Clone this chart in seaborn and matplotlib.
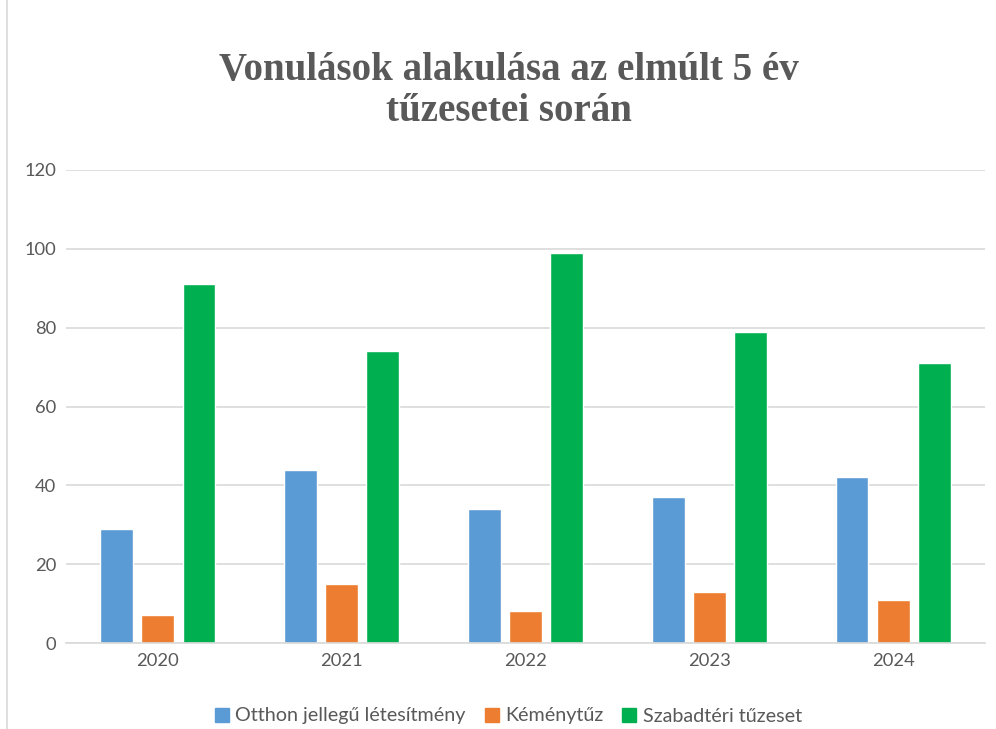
import matplotlib
matplotlib.use("Agg")
import matplotlib.pyplot as plt
import pandas as pd
import seaborn as sns
from matplotlib.lines import Line2D

years = ["2020", "2021", "2022", "2023", "2024"]
otthon = [29, 44, 34, 37, 42]
kemeny = [7, 15, 8, 13, 11]
szabad = [91, 74, 99, 79, 71]
series = ["Otthon jellegű létesítmény", "Kéménytűz", "Szabadtéri tűzeset"]
colors = ["#5B9BD5", "#ED7D31", "#00B050"]

df = pd.DataFrame({"év": years, series[0]: otthon, series[1]: kemeny, series[2]: szabad})
long = df.melt(id_vars="év", var_name="típus", value_name="db")

sns.set_style("white")
plt.rcParams["font.family"] = ["Lato", "DejaVu Sans"]

fig = plt.figure(figsize=(9.96, 7.29), dpi=100)
ax = fig.add_axes([66 / 996, 1 - 643 / 729, 919 / 996, 473 / 729])

sns.barplot(data=long, x="év", y="db", hue="típus", palette=colors,
            width=0.67, gap=0.2, ax=ax, legend=False, saturation=1)

ax.set_xlim(-0.5, 4.5)
ax.set_ylim(0, 120)
ax.set_yticks(range(0, 121, 20))
ax.yaxis.grid(True, color="#D9D9D9", linewidth=1.2)
ax.set_axisbelow(True)
for s in ["top", "right", "left"]:
    ax.spines[s].set_visible(False)
ax.spines["bottom"].set_color("#D9D9D9")
ax.spines["bottom"].set_linewidth(1.2)
ax.set_xlabel("")
ax.set_ylabel("")
ax.tick_params(axis="both", length=0, labelsize=13.2, labelcolor="#595959", pad=7)

fig.text(0.511, 1 - 91 / 729, "Vonulások alakulása az elmúlt 5 év\ntűzesetei során",
         ha="center", va="center", fontsize=28.1, fontweight="bold",
         family=["Liberation Serif", "DejaVu Serif"], color="#595959", linespacing=1.12)

handles = [Line2D([], [], marker="s", linestyle="", markersize=9.5,
                  markerfacecolor=c, markeredgecolor=c) for c in colors]
fig.legend(handles, series, loc="center", bbox_to_anchor=(0.51, 1 - 716 / 729),
           ncol=3, frameon=False, fontsize=14.2, labelcolor="#595959",
           handletextpad=0.3, columnspacing=0.9, handlelength=0.8)

fig.add_artist(Line2D([7 / 996, 7 / 996], [0, 1], color="#D9D9D9", linewidth=1.2))

fig.savefig("out.png", dpi=100, facecolor="white")
